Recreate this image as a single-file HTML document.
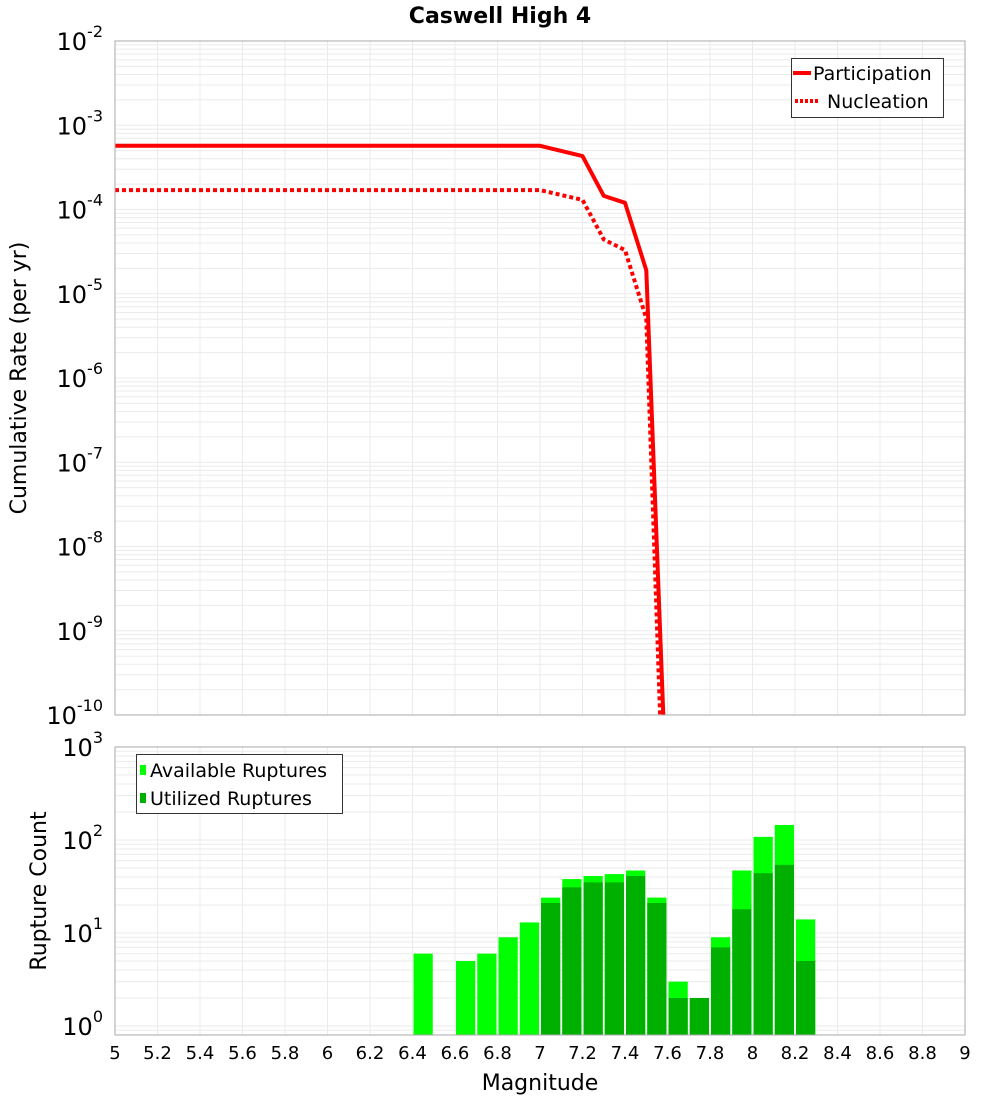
<!DOCTYPE html>
<html><head><meta charset="utf-8"><style>
html,body{margin:0;padding:0;background:#fff}
svg{display:block;font-family:"DejaVu Sans","Liberation Sans",sans-serif}
</style></head><body>
<svg id="c" width="1000" height="1100" viewBox="0 0 1000 1100" xmlns="http://www.w3.org/2000/svg">
<text x="500" y="23" text-anchor="middle" font-size="22" font-weight="bold">Caswell High 4</text>
<g id="topg"></g>
<g id="botg"></g>
<text transform="translate(26,378) rotate(-90)" text-anchor="middle" font-size="22">Cumulative Rate (per yr)</text>
<text transform="translate(46,891) rotate(-90)" text-anchor="middle" font-size="22">Rupture Count</text>
<text x="540" y="1090" text-anchor="middle" font-size="22">Magnitude</text>
</svg>
<script>
const partMag=[5.0,7.0,7.2,7.3,7.4,7.5,7.6];
const partRate=[5.7e-4,5.7e-4,4.3e-4,1.45e-4,1.2e-4,1.9e-5,5e-12];
const nuclMag=[5.0,7.0,7.2,7.3,7.4,7.5,7.6];
const nuclRate=[1.7e-4,1.7e-4,1.3e-4,4.4e-5,3.3e-5,5.1e-6,3e-13];
const barMag=[6.4,6.6,6.7,6.8,6.9,7.0,7.1,7.2,7.3,7.4,7.5,7.6,7.7,7.8,7.9,8.0,8.1,8.2];
const availCount=[6,5,6,9,13,24,38,41,43,47,24,3,2,9,47,108,145,14];
const usedCount=[0,0,0,0,0,21,31,35,35,41,21,2,2,7,18,44,54,5];
const xTicks=[5,5.2,5.4,5.6,5.8,6,6.2,6.4,6.6,6.8,7,7.2,7.4,7.6,7.8,8,8.2,8.4,8.6,8.8,9];

const NS="http://www.w3.org/2000/svg";
const X0=115,X1=965;
const x=m=>X0+(m-5)/4*(X1-X0);
const T0=41,T1=715; const yT=v=>T0+(-2-Math.log10(v))*(T1-T0)/8;
const B0=747,BD=93; const yB=v=>B0+(3-Math.log10(v))*BD; const B1=1035;
function mk(p,t,a){const e=document.createElementNS(NS,t);for(const k in a)e.setAttribute(k,a[k]);p.appendChild(e);return e;}
const svgRoot=document.getElementById('c');
const topG=document.getElementById('topg'),botG=document.getElementById('botg');
const defs=mk(svgRoot,'defs',{});
const cp=mk(defs,'clipPath',{id:'ct'});mk(cp,'rect',{x:X0,y:T0,width:X1-X0,height:T1-T0});

function grid(g,yf,dlo,dhi,ya,yb){
  for(let d=dlo;d<dhi;d++)for(let k=1;k<10;k++){const yy=yf(k*Math.pow(10,d));if(yy<ya-0.5||yy>yb+0.5)continue;
    const l=mk(g,'line',{x1:X0,x2:X1,y1:yy,y2:yy,stroke:'#ebebeb','stroke-width':1});
    
    }
  xTicks.forEach(t=>{const l=mk(g,'line',{x1:x(t),x2:x(t),y1:ya,y2:yb,stroke:'#ebebeb','stroke-width':1});
    
    });
}
grid(topG,yT,-10,-1,T0,T1);
grid(botG,yB,-1,3,B0,B1);
function ylab(g,yy,e,nm){const t=mk(g,'text',{x:103,y:yy+9,'text-anchor':'end','font-size':24});
  
  
  t.textContent='10';const s=mk(t,'tspan',{dy:-13,'font-size':16});s.textContent=e;}
for(let e=-10;e<=-2;e++)ylab(topG,yT(Math.pow(10,e)),String(e),'y-tick-label-rate');
for(let e=0;e<=3;e++)ylab(botG,yB(Math.pow(10,e)),String(e),'y-tick-label-count');
xTicks.forEach(t=>{const tx=mk(svgRoot,'text',{x:x(t),y:1059,'text-anchor':'middle','font-size':18});
  
  
  tx.textContent=String(t);});
function path(M,R){return M.map((m,i)=>(i?'L':'M')+x(m).toFixed(1)+','+yT(R[i]).toFixed(1)).join('');}
const lg=mk(topG,'g',{'clip-path':'url(#ct)'});
const p1=mk(lg,'path',{d:path(partMag,partRate),fill:'none',stroke:'#ff0000','stroke-width':4,'stroke-linejoin':'round'});


const p2=mk(lg,'path',{d:path(nuclMag,nuclRate),fill:'none',stroke:'#ff0000','stroke-width':4,'stroke-dasharray':'4,3'});


barMag.forEach((m,i)=>{const xa=x(m)+1,w=x(m+0.1)-x(m)-2;
  const a=availCount[i],u=usedCount[i];
  if(a>0){const r=mk(botG,'rect',{x:xa,y:yB(a),width:w,height:B1-yB(a),fill:'#00ff00'});
    
    }
  if(u>0){const r=mk(botG,'rect',{x:xa,y:yB(u),width:w,height:B1-yB(u),fill:'#00b000'});
    
    }
});
[[topG,T0,T1],[botG,B0,B1]].forEach(([g,a,b])=>{const r=mk(g,'rect',{x:X0,y:a,width:X1-X0,height:b-a,fill:'none',stroke:'#aaaaaa','stroke-width':1});
  
  });
const L1=mk(topG,'g',{});


mk(L1,'rect',{x:791.5,y:58.5,width:152,height:59,fill:'#fff',stroke:'#333','stroke-width':1});
mk(L1,'line',{x1:793,x2:811,y1:73,y2:73,stroke:'#f00','stroke-width':4});
mk(L1,'line',{x1:795,x2:820,y1:101,y2:101,stroke:'#f00','stroke-width':4,'stroke-dasharray':'3,2'});
let t=mk(L1,'text',{x:813,y:80,'font-size':19});t.textContent='Participation';
t=mk(L1,'text',{x:827,y:108,'font-size':19});t.textContent='Nucleation';
const L2=mk(botG,'g',{});


mk(L2,'rect',{x:136.5,y:754.5,width:206,height:59,fill:'#fff',stroke:'#333','stroke-width':1});
mk(L2,'rect',{x:140,y:765,width:6,height:10,fill:'#00ff00'});
mk(L2,'rect',{x:140,y:793,width:6,height:10,fill:'#00b000'});
t=mk(L2,'text',{x:150,y:777,'font-size':19});t.textContent='Available Ruptures';
t=mk(L2,'text',{x:150,y:805,'font-size':19});t.textContent='Utilized Ruptures';
</script>
</body></html>
